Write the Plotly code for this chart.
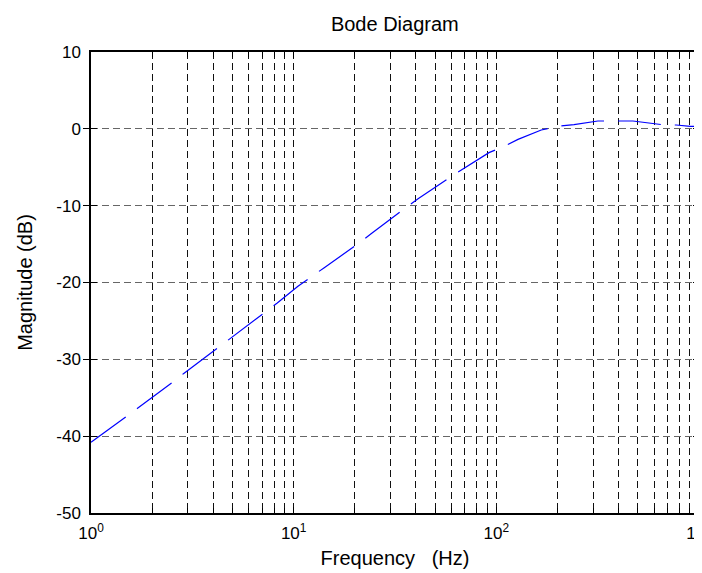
import plotly.graph_objects as go

# Data
freq_hz = [1, 1.49, 1.69, 2.54, 2.88, 4.28, 4.87, 7.27, 8.27, 10.5, 12.4, 14.1,
           21.2, 24.1, 36, 41.1, 61.8, 71.6, 92, 110.7, 127.9, 166.6, 205,
           241.7, 317, 398, 472, 676, 773, 906, 1000]
magnitude_db = [-40.8, -37.5, -36.4, -32.95, -31.8, -28.4, -27.3, -23.8, -22.7,
                -20.5, -19.2, -18.1, -14.8, -13.65, -10.2, -9.1, -5.97, -4.9,
                -3.1, -2.2, -1.37, -0.15, 0.37, 0.54, 1.02, 1.02, 1.02, 0.5,
                0.5, 0.33, 0.33]

x_major_vals = [1, 10, 100, 1000]
x_major_text = ["10<sup>0</sup>", "10<sup>1</sup>", "10<sup>2</sup>", "10<sup>3</sup>"]
x_minor_vals = [m * 10 ** k for k in range(3) for m in range(2, 10)]
y_tick_vals = [-50, -40, -30, -20, -10, 0, 10]
y_tick_text = ["-50", "-40", "-30", "-20", "-10", "0", "10"]

FONT = "Liberation Sans, Arial, sans-serif"

fig = go.Figure()
fig.add_trace(go.Scatter(
    x=freq_hz, y=magnitude_db, mode="lines",
    line=dict(color="#0000ff", width=1.2, dash="43px,14px"),
    showlegend=False, hoverinfo="skip",
))

fig.update_layout(
    width=702, height=573,
    margin=dict(l=83, r=11, t=44, b=68),
    paper_bgcolor="white", plot_bgcolor="white",
    font=dict(family=FONT, size=17, color="black"),
    title=dict(text="Bode Diagram", x=0.551, xanchor="center", y=0.972,
               yanchor="middle", font=dict(size=20)),
    xaxis=dict(
        type="log", range=[0, 3],
        tickvals=x_major_vals, ticktext=x_major_text,
        showgrid=True, gridcolor="#111111", gridwidth=1, griddash="7px,4px",
        ticks="inside", ticklen=6, tickcolor="black",
        showline=True, linecolor="black", linewidth=1.5, mirror="allticks",
        zeroline=False, tickfont=dict(size=17), automargin=False,
        ticklabelstandoff=4, ticklabeloverflow="allow",
        title=dict(text="Frequency &nbsp;&nbsp;(Hz)", font=dict(size=20), standoff=9),
    ),
    xaxis2=dict(
        type="log", range=[0, 3], overlaying="x", side="bottom", matches="x",
        tickvals=x_minor_vals, showticklabels=False,
        showgrid=True, gridcolor="#111111", gridwidth=1, griddash="7px,4px",
        ticks="inside", ticklen=5, tickcolor="black",
        showline=False, mirror="allticks", zeroline=False, automargin=False,
    ),
    yaxis=dict(
        range=[-50, 10], tickvals=y_tick_vals, ticktext=y_tick_text,
        showgrid=True, gridcolor="#666666", gridwidth=1, griddash="7px,4px",
        ticks="inside", ticklen=6, tickcolor="black",
        showline=True, linecolor="black", linewidth=1.5, mirror="allticks",
        zeroline=False, tickfont=dict(size=17), automargin=False,
        ticklabelstandoff=5,
        title=dict(text="Magnitude (dB)", font=dict(size=20), standoff=18),
    ),
)
# invisible companion trace so the minor-grid axis is laid out
fig.add_trace(go.Scatter(x=[freq_hz[0]], y=[magnitude_db[0]], xaxis="x2",
                         mode="markers", marker=dict(opacity=0),
                         showlegend=False, hoverinfo="skip"))

fig.write_html("out.html")
